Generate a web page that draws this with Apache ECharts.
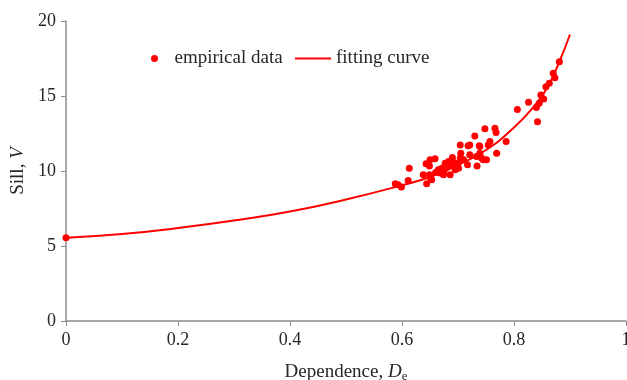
<!DOCTYPE html>
<html>
<head>
<meta charset="utf-8">
<script src="https://cdn.jsdelivr.net/npm/echarts@6/dist/echarts.min.js"></script>
<style>
  html, body { margin: 0; padding: 0; background: #fff; }
  #chart { width: 627px; height: 380px; }
</style>
</head>
<body>
<div id="chart"></div>
<script>
// empirical data (dependence D_e, sill V)
const empDependence = [
  0, 0.588, 0.593, 0.599, 0.611, 0.613, 0.638, 0.644, 0.649, 0.651, 0.653,
  0.643, 0.650, 0.659, 0.649, 0.665, 0.668, 0.671, 0.674, 0.677, 0.680,
  0.683, 0.686, 0.689, 0.693, 0.695, 0.701, 0.704, 0.705, 0.704, 0.710,
  0.717, 0.718, 0.721, 0.721, 0.730, 0.733, 0.734, 0.738, 0.739, 0.742,
  0.745, 0.748, 0.751, 0.757, 0.766, 0.768, 0.769, 0.786, 0.806, 0.842,
  0.826, 0.840, 0.845, 0.848, 0.853, 0.857, 0.863, 0.870, 0.873, 0.881,
  0.754, 0.739, 0.660, 0.675, 0.690, 0.700
];
const empSill = [
  5.55, 9.15, 9.08, 8.93, 9.37, 10.19, 9.75, 9.15, 9.75, 9.53, 9.41,
  10.48, 10.75, 10.81, 10.34, 10.08, 9.86, 10.19, 9.75, 10.52, 10.30,
  10.63, 9.75, 10.41, 10.57, 10.08, 10.19, 10.86, 11.19, 11.74, 10.75,
  10.41, 11.68, 11.74, 11.08, 12.34, 10.97, 10.34, 11.68, 11.19, 10.86,
  10.75, 12.81, 10.75, 11.96, 12.85, 12.56, 11.19, 11.96, 14.10, 13.28,
  14.58, 14.23, 14.52, 15.07, 14.80, 15.62, 15.85, 16.51, 16.22, 17.29,
  11.74, 11.63, 9.90, 10.00, 10.90, 10.50
];

// fitting curve, sampled from the figure
const fitDependence = [0, 0.1, 0.2, 0.3, 0.4, 0.5, 0.6, 0.65, 0.7, 0.75, 0.8, 0.84, 0.86, 0.88, 0.9];
const fitSill = [5.55, 5.8, 6.2, 6.7, 7.3, 8.1, 9.05, 9.6, 10.4, 11.4, 12.9, 14.5, 15.6, 17.2, 19.1];

const serif = '"Liberation Serif", "Times New Roman", serif';
const textColor = '#262626';
const axisColor = '#8c8c8c';

const chart = echarts.init(document.getElementById('chart'));

const option = {
  animation: false,
  grid: { left: 66, right: 1, top: 21, bottom: 59, containLabel: false, outerBoundsMode: 'none' },
  legend: [
    {
      data: [{ name: 'empirical data', icon: 'circle' }],
      left: 151, top: 49, padding: 0,
      itemWidth: 30, itemHeight: 7,
      textStyle: { fontFamily: serif, fontSize: 19, color: textColor }
    },
    {
      data: [{ name: 'fitting curve', icon: 'rect' }],
      left: 295, top: 49, padding: 0,
      itemWidth: 36, itemHeight: 2,
      textStyle: { fontFamily: serif, fontSize: 19, color: textColor }
    }
  ],
  xAxis: {
    type: 'value',
    min: 0, max: 1, interval: 0.2,
    name: '{n|Dependence, }{i|D}{s|e}',
    nameLocation: 'middle',
    nameGap: 40,
    nameTextStyle: {
      rich: {
        n: { fontFamily: serif, fontSize: 19, color: textColor },
        i: { fontFamily: serif, fontSize: 19, fontStyle: 'italic', color: textColor },
        s: { fontFamily: serif, fontSize: 13, color: textColor, padding: [9, 0, 0, 0] }
      }
    },
    axisLine: { lineStyle: { color: axisColor, width: 1.5 } },
    axisTick: { show: true, length: 5, lineStyle: { color: axisColor } },
    axisLabel: { fontFamily: serif, fontSize: 18, color: textColor, margin: 10 },
    splitLine: { show: false }
  },
  yAxis: {
    type: 'value',
    min: 0, max: 20, interval: 5,
    name: '{n|Sill, }{i|V}',
    nameLocation: 'middle',
    nameGap: 36,
    nameTextStyle: {
      rich: {
        n: { fontFamily: serif, fontSize: 19, color: textColor },
        i: { fontFamily: serif, fontSize: 19, fontStyle: 'italic', color: textColor }
      }
    },
    axisLine: { show: true, lineStyle: { color: axisColor, width: 1.5 } },
    axisTick: { show: true, length: 5, lineStyle: { color: axisColor } },
    axisLabel: { fontFamily: serif, fontSize: 18, color: textColor, margin: 10 },
    splitLine: { show: false }
  },
  series: [
    {
      name: 'empirical data',
      type: 'scatter',
      symbolSize: 7,
      itemStyle: { color: '#ff0000', opacity: 1 },
      data: empDependence.map((d, i) => [d, empSill[i]]),
      z: 3
    },
    {
      name: 'fitting curve',
      type: 'line',
      smooth: true,
      symbol: 'none',
      lineStyle: { color: '#ff0000', width: 2 },
      itemStyle: { color: '#ff0000' },
      data: fitDependence.map((d, i) => [d, fitSill[i]]),
      z: 2
    }
  ]
};

chart.setOption(option);
</script>
</body>
</html>
